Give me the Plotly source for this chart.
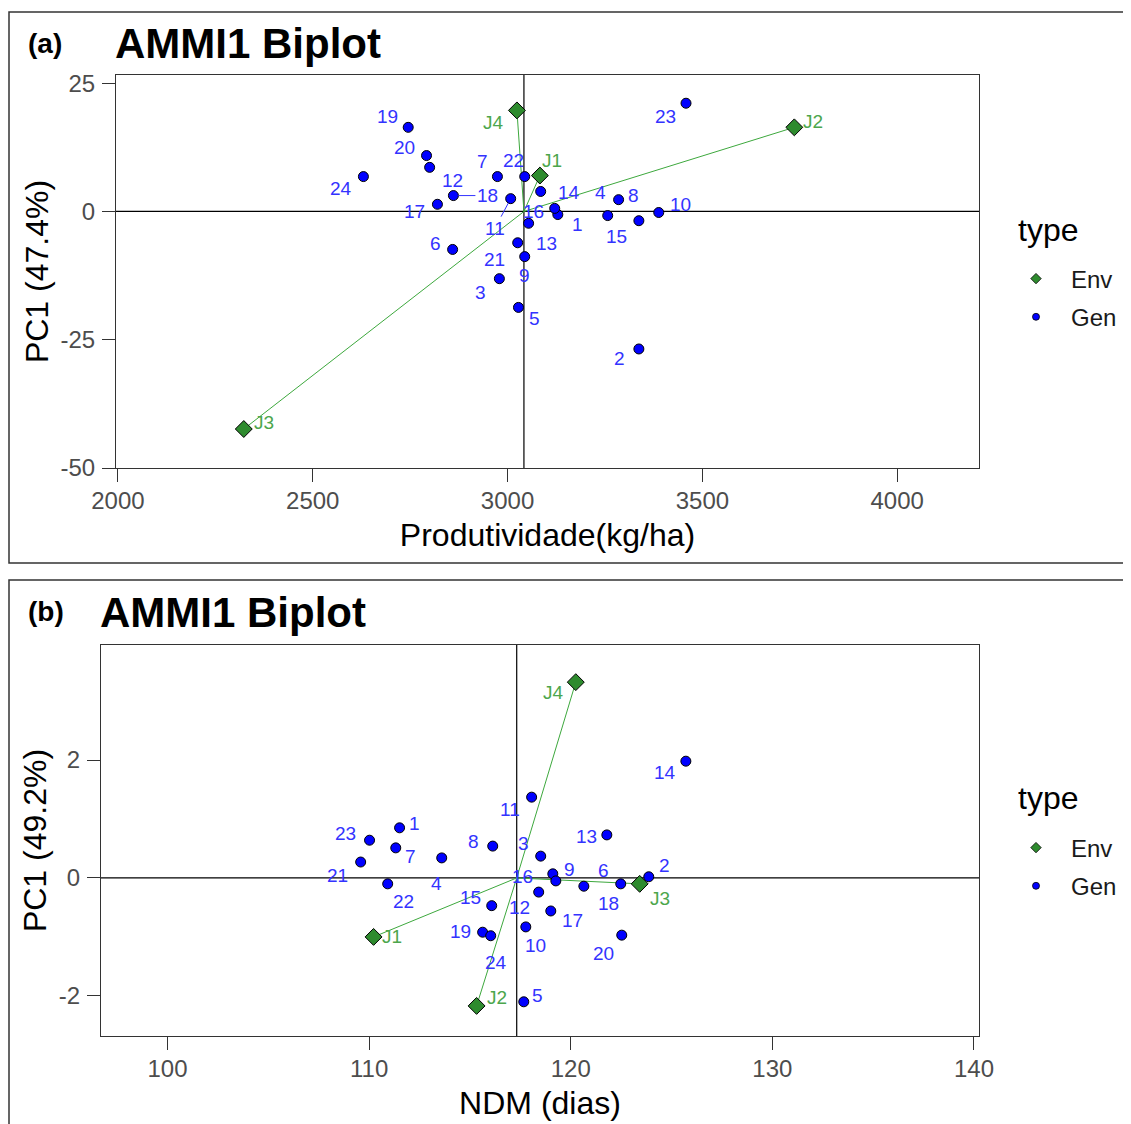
import plotly.graph_objects as go

# ---- data: panel (a) productivity ----
gen_ids = [str(i) for i in range(1, 25)]
env_ids = ["J1", "J2", "J3", "J4"]

prod_mean = 3042
prod_gen_x = [3129, 3337, 2979, 3257, 3028, 2859, 2974, 3285, 3044, 3388, 3008, 2800,
              3054, 3085, 3337, 3121, 2820, 2861, 2745, 2792, 3026, 3044, 3458, 2630]
prod_gen_pc1 = [-0.6, -26.8, -13.1, -0.8, -18.7, -7.4, 6.8, 2.3, -8.8, -0.2, 2.5, 8.6,
                -2.3, 3.9, -1.8, 0.6, 1.4, 3.1, 16.4, 10.9, -6.1, 6.8, 21.1, 6.8]
prod_env_x = [3083, 3736, 2323, 3024]
prod_env_pc1 = [7.0, 16.4, -42.4, 19.7]
prod_xticks = [2000, 2500, 3000, 3500, 4000]
prod_yticks = [25, 0, -25, -50]

# ---- data: panel (b) NDM ----
ndm_mean = 117.32
ndm_gen_x = [111.51, 123.87, 118.51, 113.60, 117.67, 120.65, 111.32, 116.13, 119.11, 117.77,
             118.06, 118.41, 121.79, 125.71, 116.08, 119.26, 119.01, 122.48, 115.63, 122.53,
             109.58, 110.92, 110.02, 116.03]
ndm_gen_pc1 = [0.85, 0.02, 0.37, 0.34, -2.10, -0.14, 0.51, 0.54, 0.07, -0.83,
               1.37, -0.24, 0.73, 1.98, -0.47, -0.05, -0.56, -0.10, -0.92, -0.97,
               0.27, -0.10, 0.64, -0.98]
ndm_env_x = [110.22, 115.33, 123.42, 120.25]
ndm_env_pc1 = [-1.00, -2.17, -0.10, 3.32]
ndm_xticks = [100, 110, 120, 130, 140]
ndm_yticks = [2, 0, -2]

# label offsets in pixels (text placement, ggrepel-like)
a_gen_off = [(20, -10), (-19, -10), (-19, -14), (-7, 23), (16, -11), (-17, 6), (-15, 15), (15, 4),
             (0, -19), (22, 8), (-16, -30), (23, -13), (18, -20), (28, -1), (-22, -16), (-21, -3),
             (-23, -7), (34, 0), (-21, 11), (-22, 8), (-23, -17), (-11, 16), (-21, -13), (-22, -12)]
a_env_off = [(12, 15), (19, 6), (20, 7), (-23, -12)]
a_segments = ["11", "18"]
b_gen_off = [(15, 4), (16, 11), (-17, 13), (-5, -26), (14, 6), (20, 16), (15, -9), (-19, 5),
             (17, 4), (10, -19), (-22, -12), (-19, -15), (-20, -2), (-21, -11), (-21, 8), (-33, 4),
             (22, -10), (-12, -20), (-22, 1), (-18, -18), (-23, -13), (16, -18), (-24, 7), (5, -27)]
b_env_off = [(18, 0), (20, 8), (20, -15), (-22, -10)]
b_segments = []

FONT = "Liberation Sans, Arial, sans-serif"
GEN_COL = "#0000FF"
GEN_TXT = "#3333FF"
ENV_COL = "#2E8B2E"
ENV_TXT = "#4CA64C"
LINE_COL = "#3DA83D"

# page body has an 8px margin, so the figure is offset by 8px in both directions
OFF = 8
W, H = 1123, 1116


def px(x):
    return (x - OFF) / W


def py(y):
    return 1 - (y - OFF) / H


fig = go.Figure()


def add_panel(xa, ya, legend, mean, gx, gy, ex, ey, goff, eoff, segs):
    for i in range(len(ex)):
        fig.add_trace(go.Scatter(x=[mean, ex[i]], y=[0, ey[i]], mode="lines",
                                 line=dict(color=LINE_COL, width=1), showlegend=False,
                                 hoverinfo="skip", xaxis=xa, yaxis=ya))
    fig.add_trace(go.Scatter(x=ex, y=ey, mode="markers", name="Env", showlegend=False,
                             marker=dict(symbol="diamond", size=13, color=ENV_COL,
                                         line=dict(color="black", width=1)),
                             text=env_ids, xaxis=xa, yaxis=ya))
    fig.add_trace(go.Scatter(x=gx, y=gy, mode="markers", name="Gen", showlegend=False,
                             marker=dict(symbol="circle", size=10, color=GEN_COL,
                                         line=dict(color="black", width=1)),
                             text=gen_ids, xaxis=xa, yaxis=ya))
    # legend entries with small keys
    fig.add_trace(go.Scatter(x=[None], y=[None], mode="markers", name="Env", legend=legend,
                             legendgroup="env",
                             marker=dict(symbol="diamond", size=8, color=ENV_COL,
                                         line=dict(color="black", width=0.8)),
                             xaxis=xa, yaxis=ya))
    fig.add_trace(go.Scatter(x=[None], y=[None], mode="markers", name="Gen", legend=legend,
                             legendgroup="gen",
                             marker=dict(symbol="circle", size=7, color=GEN_COL,
                                         line=dict(color="black", width=0.8)),
                             xaxis=xa, yaxis=ya))
    for lab, x, y, (dx, dy) in zip(gen_ids, gx, gy, goff):
        f = dict(family=FONT, size=19, color=GEN_TXT)
        if lab in segs:
            fig.add_annotation(x=x, y=y, xref=xa, yref=ya, text=lab, showarrow=True,
                               arrowhead=0, arrowwidth=1, arrowcolor=GEN_TXT, standoff=5,
                               ax=dx, ay=-dy, font=f)
        else:
            fig.add_annotation(x=x, y=y, xref=xa, yref=ya, text=lab, showarrow=False,
                               xshift=dx, yshift=dy, font=f)
    for lab, x, y, (dx, dy) in zip(env_ids, ex, ey, eoff):
        fig.add_annotation(x=x, y=y, xref=xa, yref=ya, text=lab, showarrow=False,
                           xshift=dx, yshift=dy, font=dict(family=FONT, size=19, color=ENV_TXT))


add_panel("x", "y", "legend", prod_mean, prod_gen_x, prod_gen_pc1, prod_env_x, prod_env_pc1,
          a_gen_off, a_env_off, a_segments)
add_panel("x2", "y2", "legend2", ndm_mean, ndm_gen_x, ndm_gen_pc1, ndm_env_x, ndm_env_pc1,
          b_gen_off, b_env_off, b_segments)

# reference lines
for xa, ya, m in [("x", "y", prod_mean), ("x2", "y2", ndm_mean)]:
    fig.add_shape(type="line", xref=xa, yref=ya + " domain", x0=m, x1=m, y0=0, y1=1,
                  line=dict(color="black", width=1.2), layer="below")
    fig.add_shape(type="line", xref=xa + " domain", yref=ya, x0=0, x1=1, y0=0, y1=0,
                  line=dict(color="black", width=1.2), layer="below")

axis_common = dict(showgrid=False, zeroline=False, showline=True, linecolor="#333333",
                   linewidth=1, mirror=True, ticks="outside", ticklen=13, tickcolor="#333333",
                   automargin=False,
                   tickfont=dict(family=FONT, size=24, color="#4D4D4D"))
title_font = dict(family=FONT, size=32, color="black")


def tick_text(vals):
    return [str(v) for v in vals]


legend_common = dict(xanchor="left", yanchor="middle", itemwidth=60, tracegroupgap=4,
                     font=dict(family=FONT, size=24, color="#1a1a1a"), bgcolor="rgba(0,0,0,0)")

fig.update_layout(
    width=W, height=H,
    margin=dict(l=0, r=0, t=0, b=0, autoexpand=False),
    paper_bgcolor="white", plot_bgcolor="white",
    font=dict(family=FONT),
    xaxis=dict(domain=[px(116), px(979)], anchor="y", range=[1995, 4210],
               tickvals=prod_xticks, ticktext=tick_text(prod_xticks), ticklabelstandoff=-2,
               title=dict(text="Produtividade(kg/ha)", font=title_font, standoff=10), **axis_common),
    yaxis=dict(domain=[py(468), py(75)], anchor="x", range=[-50, 26.6],
               tickvals=prod_yticks, ticktext=tick_text(prod_yticks), ticklabelstandoff=2,
               title=dict(text="PC1 (47.4%)", font=title_font, standoff=2), **axis_common),
    xaxis2=dict(domain=[px(101), px(979)], anchor="y2", range=[96.7, 140.25],
                tickvals=ndm_xticks, ticktext=tick_text(ndm_xticks), ticklabelstandoff=-2,
                title=dict(text="NDM (dias)", font=title_font, standoff=10), **axis_common),
    yaxis2=dict(domain=[py(1036), py(645)], anchor="x2", range=[-2.68, 3.95],
                tickvals=ndm_yticks, ticktext=tick_text(ndm_yticks), ticklabelstandoff=2,
                title=dict(text="PC1 (49.2%)", font=title_font, standoff=2), **axis_common),
    legend=dict(x=px(1001), y=py(298), **legend_common),
    legend2=dict(x=px(1001), y=py(867), **legend_common),
)

# legend titles
for ty in [230, 798]:
    fig.add_annotation(x=px(1016), y=py(ty), xref="paper", yref="paper", text="type",
                       showarrow=False, xanchor="left", yanchor="middle",
                       font=dict(family=FONT, size=32, color="black"))

# panel titles and tags
for tag, tx, ty in [("(a)", 113, 42), ("(b)", 98, 610)]:
    fig.add_annotation(x=px(26), y=py(ty + 1), xref="paper", yref="paper", text="<b>" + tag + "</b>",
                       showarrow=False, xanchor="left", yanchor="middle",
                       font=dict(family=FONT, size=28, color="black"))
    fig.add_annotation(x=px(tx), y=py(ty + 2), xref="paper", yref="paper", text="<b>AMMI1 Biplot</b>",
                       showarrow=False, xanchor="left", yanchor="middle",
                       font=dict(family=FONT, size=42, color="black"))

# panel frames
fig.add_shape(type="rect", xref="paper", yref="paper", x0=px(9), x1=1.01, y0=py(563), y1=py(12),
              line=dict(color="#333333", width=1.5))
fig.add_shape(type="rect", xref="paper", yref="paper", x0=px(9), x1=1.01, y0=-0.01, y1=py(580),
              line=dict(color="#333333", width=1.5))

fig.write_html("out.html")
